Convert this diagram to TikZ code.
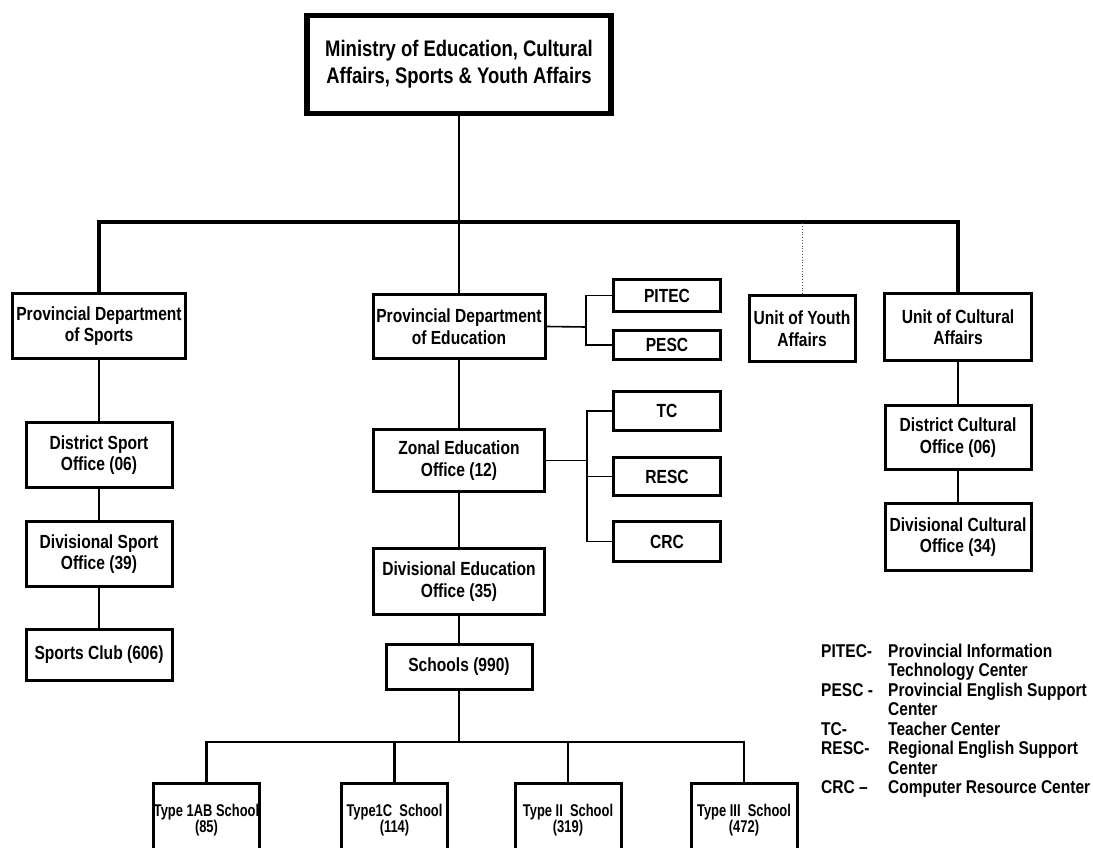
\documentclass[tikz,border=0pt]{standalone}
\usepackage{fontspec}
\setmainfont{Liberation Sans}[FakeStretch=0.82]
\newfontfamily\typefont{Liberation Sans}[FakeStretch=0.76]
\newfontfamily\legfont{Liberation Sans}[FakeStretch=0.84]
\begin{document}
\begin{tikzpicture}[x=1pt,y=-1pt,
  box/.style={draw, line width=3pt, align=center, inner sep=0pt,
    font=\bfseries\fontsize{19}{21.5}\selectfont},
  topbox/.style={draw, line width=5.5pt, align=center, inner sep=0pt,
    font=\bfseries\fontsize{22.5}{27}\selectfont},
  typebox/.style={draw, line width=3pt, align=center, inner sep=0pt,
    minimum width=106pt, minimum height=74pt,
    font=\typefont\bfseries\fontsize{17}{16.5}\selectfont},
  conn/.style={line width=2.5pt},
  busline/.style={line width=3.5pt},
  thinconn/.style={line width=1.6pt},
  dotconn/.style={line width=0.8pt, dotted, black!70},
  legab/.style={anchor=base west, inner sep=0pt, font=\legfont\bfseries\fontsize{18.5}{19.5}\selectfont},
]
\useasboundingbox (0,0) rectangle (1093,848);
\fill[white] (0,0) rectangle (1093,848);
\clip (0,0) rectangle (1093,848);

% top
\node[topbox, minimum width=304pt, minimum height=98pt] (min) at (459,64.5)
  {Ministry of Education, Cultural\\Affairs, Sports \& Youth Affairs};

% second level
\node[box, minimum width=173pt, minimum height=65pt] (pds) at (99,326) {Provincial Department\\of Sports};
\node[box, minimum width=172pt, minimum height=64pt] (pde) at (459,326.5) {Provincial Department\\of Education};
\node[box, minimum width=107pt, minimum height=32pt] (pitec) at (667,295.5) {PITEC};
\node[box, minimum width=107pt, minimum height=29pt] (pesc) at (667,345) {PESC};
\node[box, minimum width=106pt, minimum height=66pt] (youth) at (802,328.5) {Unit of Youth\\Affairs};
\node[box, minimum width=147pt, minimum height=67pt] (cult) at (958,327) {Unit of Cultural\\Affairs};

% sports column
\node[box, minimum width=146pt, minimum height=65pt] (dso) at (99,455) {District Sport\\Office (06)};
\node[box, minimum width=146pt, minimum height=65pt] (dvso) at (99,554) {Divisional Sport\\Office (39)};
\node[box, minimum width=146pt, minimum height=51pt] (club) at (99,655) {Sports Club (606)};

% education column
\node[box, minimum width=171pt, minimum height=62pt] (zeo) at (459,460.5) {Zonal Education\\Office (12)};
\node[box, minimum width=171pt, minimum height=66pt] (deo) at (459,581.5) {Divisional Education\\Office (35)};
\node[box, minimum width=146pt, minimum height=45pt] (sch) at (459,667) {Schools (990)};
\node[box, minimum width=107pt, minimum height=39pt] (tc) at (667,411) {TC};
\node[box, minimum width=107pt, minimum height=38pt] (resc) at (667,476.5) {RESC};
\node[box, minimum width=107pt, minimum height=40pt] (crc) at (667,541.5) {CRC};

% cultural column
\node[box, minimum width=146pt, minimum height=64pt] (dco) at (958,437.5) {District Cultural\\Office (06)};
\node[box, minimum width=146pt, minimum height=67pt] (dvco) at (958,537) {Divisional Cultural\\Office (34)};

% school types
\node[typebox] (t1) at (206.5,820) {Type 1AB School\\(85)};
\node[typebox] (t2) at (394.5,820) {Type1C\ \ School\\(114)};
\node[typebox] (t3) at (568,820) {Type II\ \ School\\(319)};
\node[typebox] (t4) at (744,820) {Type III\ \ School\\(472)};

% coordinates
\coordinate (bus) at (459,222);
\coordinate (b1) at (586,327);
\coordinate (b2) at (587,460.5);
\coordinate (bus2) at (459,742);

% connectors
\draw[conn] (min.south) -- (bus);
\draw[busline] (pds.north) |- (bus) -| (cult.north);
\draw[conn] (bus) -- (pde.north);
\draw[dotconn] (youth.north) -- (youth.north |- bus);

\draw[thinconn] (pde.east) -- (b1);
\draw[thinconn] (pitec.west) -| (b1) |- (pesc.west);

\draw[conn] (pds) -- (dso);
\draw[conn] (dso) -- (dvso);
\draw[conn] (dvso) -- (club);

\draw[conn] (pde) -- (zeo);
\draw[conn] (zeo) -- (deo);
\draw[conn] (deo) -- (sch);
\draw[thinconn] (zeo.east) -- (b2);
\draw[thinconn] (tc.west) -| (b2) |- (crc.west);
\draw[thinconn] (b2) |- (resc.west);

\draw[conn] (cult) -- (dco);
\draw[conn] (dco) -- (dvco);

\draw[conn] (sch.south) -- (bus2);
\draw[conn] (t1.north) |- (bus2) -| (t4.north);
\draw[conn] (t2.north) -- (t2.north |- bus2);
\draw[conn] (t3.north) -- (t3.north |- bus2);

% legend
\node[legab] (la1) at (821,657) {PITEC-};
\node[legab] (ld1) at (888,657) {Provincial Information};
\node[legab] (ld1b) at (888,676.5) {Technology Center};
\node[legab] (la2) at (821,696) {PESC -};
\node[legab] (ld2) at (888,696) {Provincial English Support};
\node[legab] (ld2b) at (888,715.5) {Center};
\node[legab] (la3) at (821,735) {TC-};
\node[legab] (ld3) at (888,735) {Teacher Center};
\node[legab] (la4) at (821,754.5) {RESC-};
\node[legab] (ld4) at (888,754.5) {Regional English Support};
\node[legab] (ld4b) at (888,774) {Center};
\node[legab] (la5) at (821,793.5) {CRC –};
\node[legab] (ld5) at (888,793.5) {Computer Resource Center};
\end{tikzpicture}
\end{document}
